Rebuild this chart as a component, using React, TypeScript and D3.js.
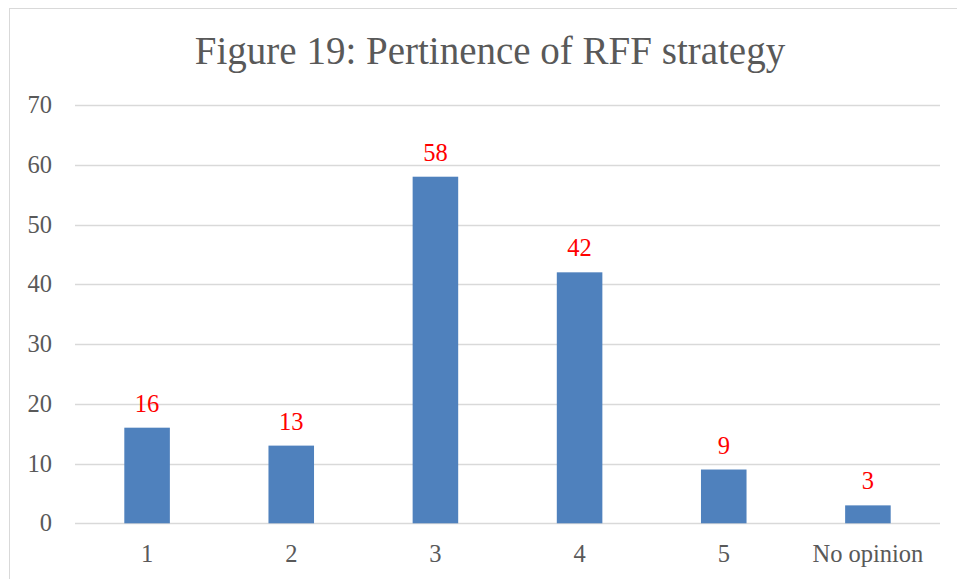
import React from "react";
import * as d3 from "d3";

const categories = ["1", "2", "3", "4", "5", "No opinion"];
const values = [16, 13, 58, 42, 9, 3];
const yTicks = [0, 10, 20, 30, 40, 50, 60, 70];
const title = "Figure 19: Pertinence of RFF strategy";

const W = 957;
const H = 579;
const FONT = "'Liberation Serif', 'DejaVu Serif', serif";

export default function App() {
  const x = d3.scaleBand().domain(categories).range([75, 940]).paddingInner(0.684).paddingOuter(0.342);
  const y = d3.scaleLinear().domain([0, 70]).range([523.3, 105]);
  return (
    <svg width={W} height={H} style={{ position: "fixed", left: 0, top: 0 }} fontFamily={FONT}>
      <rect x={0} y={0} width={W} height={H} fill="#fff" />
      <rect x={9.5} y={8.5} width={970} height={600} fill="#fff" stroke="#d9d9d9" strokeWidth={1} />
      <text x={490} y={64} textAnchor="middle" fontSize={39} fill="#595959">{title}</text>
      {yTicks.map((t) => (
        <g key={t}>
          <line x1={75} x2={940} y1={Math.round(y(t)) + 0.5} y2={Math.round(y(t)) + 0.5} stroke="#d9d9d9" strokeWidth={1.3} />
          <text x={52} y={y(t) + 8} textAnchor="end" fontSize={24.5} fill="#595959">{t}</text>
        </g>
      ))}
      {categories.map((c, i) => (
        <g key={c}>
          <rect x={x(c)} y={y(values[i])} width={x.bandwidth()} height={y(0) - y(values[i])} fill="#4f81bd" />
          <text x={(x(c) as number) + x.bandwidth() / 2} y={y(values[i]) - 16} textAnchor="middle" fontSize={24.5} fill="#ff0000">{values[i]}</text>
          <text x={(x(c) as number) + x.bandwidth() / 2} y={562} textAnchor="middle" fontSize={24.5} fill="#595959">{c}</text>
        </g>
      ))}
    </svg>
  );
}
